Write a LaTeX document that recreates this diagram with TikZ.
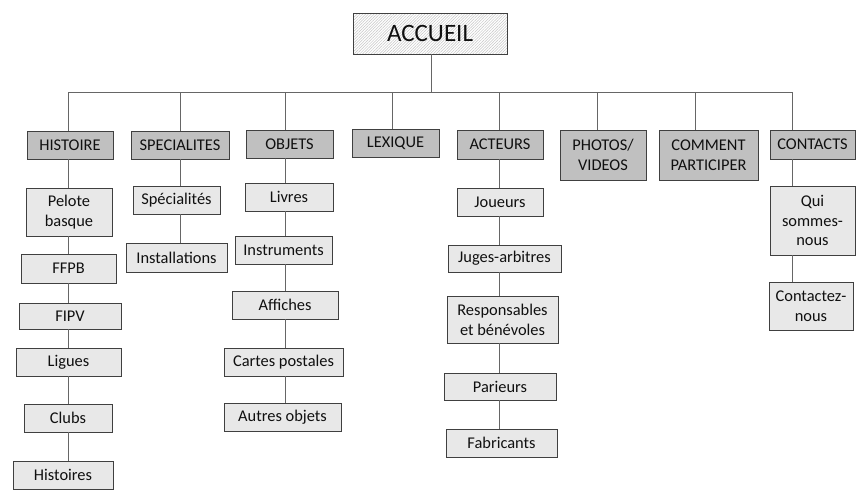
\documentclass[tikz,border=0pt]{standalone}
\usepackage{fontspec}
\setmainfont{Carlito}
\usetikzlibrary{patterns.meta}
\definecolor{lvone}{HTML}{C0C0C0}
\definecolor{lvtwo}{HTML}{E8E8E8}
\definecolor{edge}{HTML}{404040}
\definecolor{conn}{HTML}{666666}
\definecolor{txt}{HTML}{101010}
\tikzset{
  box/.style={draw=edge, line width=0.9pt, inner sep=0pt, align=center, text=txt,
    font=\fontsize{16.4}{19.8}\selectfont},
  lone/.style={box, fill=lvone},
  ltwo/.style={box, fill=lvtwo},
  rootbox/.style={box, preaction={fill=white},
    pattern={Lines[angle=45,distance=2pt,line width=0.5pt]}, pattern color=gray!45,
    font=\fontsize{25}{30}\selectfont},
  wire/.style={draw=conn, line width=0.9pt},
}
\begin{document}
\begin{tikzpicture}[x=1pt,y=-1pt]
\useasboundingbox (0,0) rectangle (861,490);
\fill[white] (0,0) rectangle (861,490);

% root
\node[rootbox, minimum width=154, minimum height=41] (root) at (430,33.5) {ACCUEIL};

% bus coordinates
\coordinate (top) at (431,92);
\coordinate (c1) at (68,92);
\coordinate (c2) at (180,92);
\coordinate (c3) at (285,92);
\coordinate (c4) at (392,92);
\coordinate (c5) at (499,92);
\coordinate (c6) at (597,92);
\coordinate (c7) at (695,92);
\coordinate (c8) at (792,92);

% level 1
\node[lone, minimum width=86, minimum height=28] (hist) at (70,145) {HISTOIRE};
\node[lone, minimum width=98, minimum height=28] (spec) at (180,145) {SPECIALITES};
\node[lone, minimum width=87, minimum height=28] (obj) at (289.5,144) {OBJETS};
\node[lone, minimum width=87, minimum height=28] (lex) at (395.5,143) {LEXIQUE};
\node[lone, minimum width=86, minimum height=29] (act) at (500,144.5) {ACTEURS};
\node[lone, minimum width=86, minimum height=50] (pho) at (603,155) {PHOTOS/\\VIDEOS};
\node[lone, minimum width=99, minimum height=50] (com) at (708.5,155) {COMMENT\\PARTICIPER};
\node[lone, minimum width=85, minimum height=29] (con) at (812.5,144.5) {CONTACTS};

% level 2 - histoire
\node[ltwo, minimum width=86, minimum height=48] (pel) at (69,212) {Pelote\\basque};
\node[ltwo, minimum width=95, minimum height=29] (ffpb) at (68.5,268.5) {FFPB};
\node[ltwo, minimum width=102, minimum height=26] (fipv) at (70,316) {FIPV};
\node[ltwo, minimum width=105, minimum height=28] (lig) at (68.5,362) {Ligues};
\node[ltwo, minimum width=88, minimum height=28] (clu) at (68,418) {Clubs};
\node[ltwo, minimum width=100, minimum height=28] (his2) at (63,475) {Histoires};
% specialites
\node[ltwo, minimum width=87, minimum height=28] (spe2) at (176.5,200) {Spécialités};
\node[ltwo, minimum width=101, minimum height=29] (ins) at (176.5,257.5) {Installations};
% objets
\node[ltwo, minimum width=88, minimum height=28] (liv) at (289,197) {Livres};
\node[ltwo, minimum width=97, minimum height=28] (inst) at (283.5,250) {Instruments};
\node[ltwo, minimum width=106, minimum height=28] (aff) at (285,305) {Affiches};
\node[ltwo, minimum width=119, minimum height=28] (cart) at (283.5,362) {Cartes postales};
\node[ltwo, minimum width=117, minimum height=28] (aut) at (282.5,417) {Autres objets};
% acteurs
\node[ltwo, minimum width=86, minimum height=28] (jou) at (500,202) {Joueurs};
\node[ltwo, minimum width=113, minimum height=27] (jug) at (504.5,258.5) {Juges-arbitres};
\node[ltwo, minimum width=111, minimum height=47] (res) at (502.5,319.5) {Responsables\\et bénévoles};
\node[ltwo, minimum width=112, minimum height=27] (par) at (500,386.5) {Parieurs};
\node[ltwo, minimum width=111, minimum height=28] (fab) at (501.5,443) {Fabricants};
% contacts
\node[ltwo, minimum width=85, minimum height=69] (qui) at (812.5,220.5) {Qui\\sommes-\\nous};
\node[ltwo, minimum width=84, minimum height=48] (ctz) at (811,306) {Contactez-\\nous};

% connectors: root and bus
\draw[wire] (root.south -| top) -- (top);
\draw[wire] (c1) -- (c8);
\draw[wire] (c1) -- (c1 |- hist.north);
\draw[wire] (c2) -- (c2 |- spec.north);
\draw[wire] (c3) -- (c3 |- obj.north);
\draw[wire] (c4) -- (c4 |- lex.north);
\draw[wire] (c5) -- (c5 |- act.north);
\draw[wire] (c6) -- (c6 |- pho.north);
\draw[wire] (c7) -- (c7 |- com.north);
\draw[wire] (c8) -- (c8 |- con.north);

% column chains
\draw[wire] (hist.south -| c1) -- (pel.north -| c1);
\draw[wire] (pel.south -| c1) -- (ffpb.north -| c1);
\draw[wire] (ffpb.south -| c1) -- (fipv.north -| c1);
\draw[wire] (fipv.south -| c1) -- (lig.north -| c1);
\draw[wire] (lig.south -| c1) -- (clu.north -| c1);
\draw[wire] (clu.south -| c1) -- (his2.north -| c1);

\draw[wire] (spec.south -| c2) -- (spe2.north -| c2);
\draw[wire] (spe2.south -| c2) -- (ins.north -| c2);

\draw[wire] (obj.south -| c3) -- (liv.north -| c3);
\draw[wire] (liv.south -| c3) -- (inst.north -| c3);
\draw[wire] (inst.south -| c3) -- (aff.north -| c3);
\draw[wire] (aff.south -| c3) -- (cart.north -| c3);
\draw[wire] (cart.south -| c3) -- (aut.north -| c3);

\draw[wire] (act.south -| c5) -- (jou.north -| c5);
\draw[wire] (jou.south -| c5) -- (jug.north -| c5);
\draw[wire] (jug.south -| c5) -- (res.north -| c5);
\draw[wire] (res.south -| c5) -- (par.north -| c5);
\draw[wire] (par.south -| c5) -- (fab.north -| c5);

\draw[wire] (con.south -| c8) -- (qui.north -| c8);
\draw[wire] (qui.south -| c8) -- (ctz.north -| c8);
\end{tikzpicture}
\end{document}
